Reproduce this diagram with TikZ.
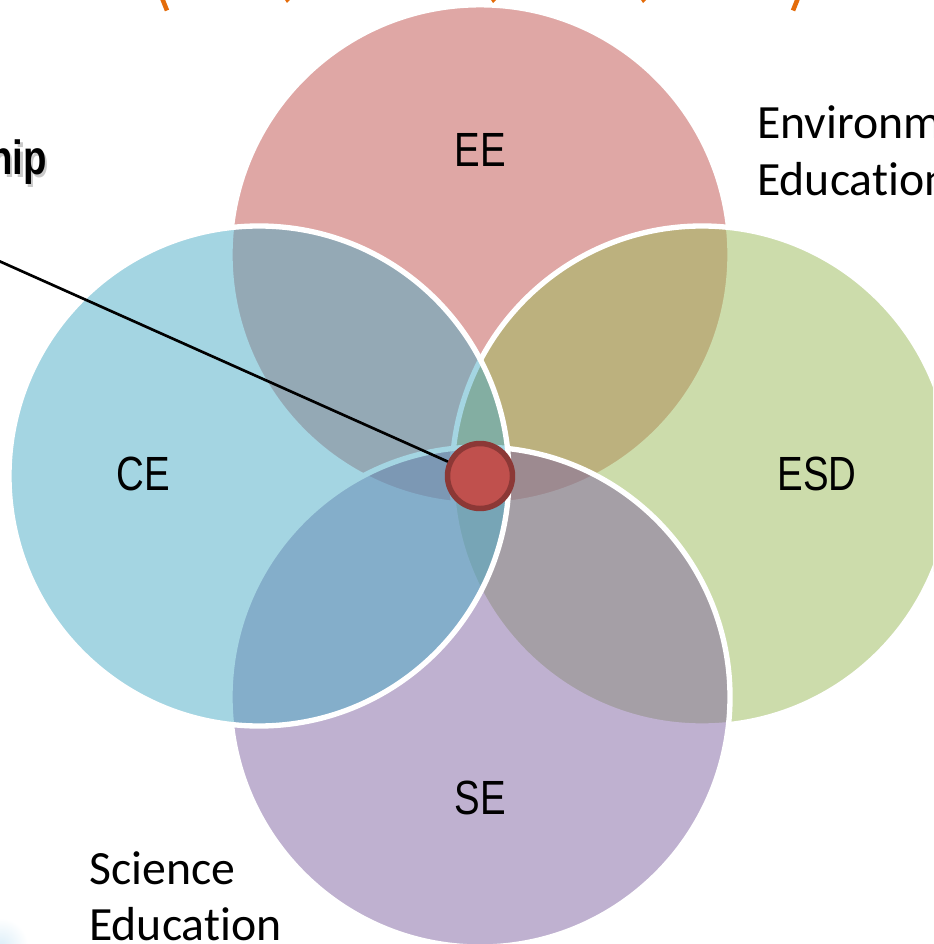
\documentclass[tikz,border=0pt]{standalone}
\usepackage{fontspec}
\setmainfont{Carlito}[Ligatures=NoCommon]
\newfontfamily\narrowsans[FakeStretch=0.8]{Liberation Sans}
\definecolor{eec}{HTML}{C0504D}
\definecolor{esdc}{HTML}{9BBB59}
\definecolor{sec}{HTML}{8064A2}
\definecolor{cec}{HTML}{4BACC6}
\definecolor{ringc}{HTML}{8C3836}
\definecolor{parenc}{HTML}{E46C0A}
\definecolor{tintc}{HTML}{DCEEF8}
\newdimen\pxu \pxu=0.75pt
\tikzset{
  petal/.style={line width=4pt,draw=white,fill opacity=0.5,draw opacity=1},
  lab/.style={inner sep=0pt,font=\narrowsans\fontsize{36pt}{42pt}\selectfont},
  note/.style={inner sep=0pt,anchor=base west,font=\fontsize{35.8pt}{42pt}\selectfont},
  heading/.style={inner sep=0pt,anchor=base east,font=\narrowsans\bfseries\fontsize{36pt}{42pt}\selectfont},
  parenstroke/.style={draw=parenc,line width=3.4pt},
  tick/.style={fill=parenc}
}
\begin{document}
\begin{tikzpicture}[x=0.75pt,y=-0.75pt]
\useasboundingbox (0,0) rectangle (933,944);
\clip (0,0) rectangle (933,944);
\fill[white] (0,0) rectangle (933,944);
% faint corner tint
\shade[inner color=tintc,outer color=white] (0,946) circle[radius=28];
% circles
\path[petal,fill=eec] (480,254.8) circle[radius=250];
\path[petal,fill=esdc] (702,476) circle[radius=250];
\path[petal,fill=sec] (480,697) circle[radius=250];
\path[petal,fill=cec] (259,476) circle[radius=250];
% labels
\node[lab] (ee) at (480,150) {EE};
\node[lab] (ce) at (143,474) {CE};
\node[lab] (esd) at (817,474) {ESD};
\node[lab] (se) at (480,798) {SE};
\node[note] (env1) at (757,139) {Environmental};
\node[note] (env2) at (757,196) {Education};
\node[note] (sci1) at (89,884) {Science};
\node[note] (sci2) at (89,940) {Education};
% centre
\node[circle,minimum size=65\pxu,inner sep=0pt,fill=eec,draw=ringc,line width=4.1pt] (hub) at (480,476) {};
\coordinate (lineend) at (-10,257);
\draw[black,line width=2pt] (lineend) -- (hub);
% heading fragment
\node[heading,black!35,opacity=0.6] (hs) at (49.5,177.5) {hip};
\node[heading,black] (h) at (47,175) {hip};
% title fragments
\draw[parenstroke] (162,-2) -- (167,10.5);
\draw[parenstroke] (798,-2) -- (793,10.5);
\fill[tick] (285,0) -- (290,0) -- (287,3) -- cycle;
\fill[tick] (491,0) -- (496,0) -- (493,3) -- cycle;
\fill[tick] (641,0) -- (646,0) -- (643,3) -- cycle;
\end{tikzpicture}
\end{document}
